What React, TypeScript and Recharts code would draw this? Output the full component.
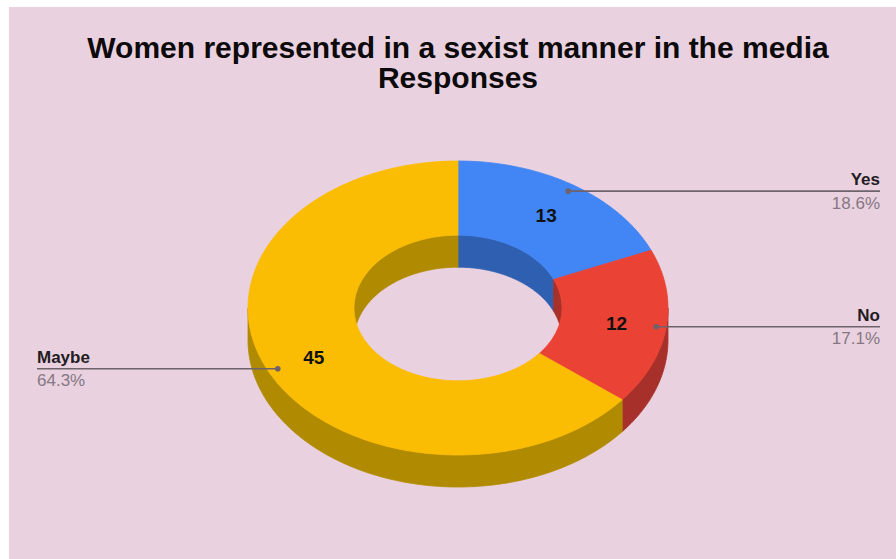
import { PieChart, Pie } from "recharts";

const categories = ["Yes", "No", "Maybe"];
const responses = [13, 12, 45];

const chartTitle = "Women represented in a sexist manner in the media";
const chartSubtitle = "Responses";

const TOP_COLORS = ["#4285f4", "#ea4335", "#fbbc04"];
const SIDE_COLORS = ["#2f5fb0", "#a8302a", "#b08a00"];

const PINK = "#e9d1df";
const FONT = '"Liberation Sans", Arial, sans-serif';
const TILT = 0.7;
const DEPTH = 32;
const RAD = Math.PI / 180;

const data = categories.map((name, i) => ({ name, value: responses[i] }));

// points along a flattened (elliptic) arc
function arc(cx: number, cy: number, r: number, a0: number, a1: number, dz = 0) {
  const n = Math.max(2, Math.ceil(Math.abs(a1 - a0)));
  const pts: string[] = [];
  for (let i = 0; i <= n; i++) {
    const a = (a0 + ((a1 - a0) * i) / n) * RAD;
    pts.push(`${(cx + r * Math.cos(a)).toFixed(2)},${(cy - TILT * r * Math.sin(a) + dz).toFixed(2)}`);
  }
  return pts;
}

function pt(cx: number, cy: number, r: number, a: number) {
  return { x: cx + r * Math.cos(a * RAD), y: cy - TILT * r * Math.sin(a * RAD) };
}

// angle ranges facing the viewer: front half for outer wall, back half for inner wall
function clip(lo: number, hi: number, back: boolean) {
  const out: [number, number][] = [];
  for (let k = -2; k <= 2; k++) {
    const a0 = back ? 360 * k : -180 + 360 * k;
    const s = Math.max(lo, a0);
    const e = Math.min(hi, a0 + 180);
    if (e > s) out.push([s, e]);
  }
  return out;
}

const renderWalls = (props: any) => {
  const { cx, cy, innerRadius, outerRadius, startAngle, endAngle, index } = props;
  const lo = Math.min(startAngle, endAngle);
  const hi = Math.max(startAngle, endAngle);
  const fill = SIDE_COLORS[index];
  const paths: string[] = [];
  clip(lo, hi, false).forEach(([s, e]) => {
    paths.push("M" + arc(cx, cy, outerRadius, s, e).concat(arc(cx, cy, outerRadius, e, s, DEPTH)).join(" L") + " Z");
  });
  clip(lo, hi, true).forEach(([s, e]) => {
    paths.push("M" + arc(cx, cy, innerRadius, s, e).concat(arc(cx, cy, innerRadius, e, s, DEPTH)).join(" L") + " Z");
  });
  return (
    <g key={`wall-${index}`}>
      {paths.map((d, i) => (
        <path key={i} d={d} fill={fill} stroke={fill} strokeWidth={0.8} strokeLinejoin="round" />
      ))}
    </g>
  );
};

const renderTop = (props: any) => {
  const { cx, cy, innerRadius, outerRadius, startAngle, endAngle, index } = props;
  const fill = TOP_COLORS[index];
  const d =
    "M" +
    arc(cx, cy, outerRadius, startAngle, endAngle).concat(arc(cx, cy, innerRadius, endAngle, startAngle)).join(" L") +
    " Z";
  return <path key={`top-${index}`} d={d} fill={fill} stroke={fill} strokeWidth={0.8} strokeLinejoin="round" />;
};

const renderCallout = (props: any) => {
  const { cx, cy, innerRadius, outerRadius, startAngle, endAngle, index, value, percent, name } = props;
  const mid = (startAngle + endAngle) / 2;
  const c = pt(cx, cy, (innerRadius + outerRadius) / 2 + 3, mid);
  const dot = pt(cx, cy, outerRadius - 10, mid);
  const right = Math.cos(mid * RAD) >= 0;
  const endX = right ? 880 : 37;
  const anchor = right ? "end" : "start";
  return (
    <g key={`callout-${index}`} fontFamily={FONT}>
      <text x={c.x} y={c.y + 7} textAnchor="middle" fontSize={19} fontWeight="bold" fill="#111">
        {value}
      </text>
      <line x1={dot.x} y1={dot.y} x2={endX} y2={dot.y} stroke="#6e626b" strokeWidth={1.6} />
      <circle cx={dot.x} cy={dot.y} r={2.8} fill="#6e626b" />
      <text x={endX} y={dot.y - 6} textAnchor={anchor} fontSize={17} fontWeight="bold" fill="#231c22">
        {name}
      </text>
      <text x={endX} y={dot.y + 17.5} textAnchor={anchor} fontSize={17} fill="#867883">
        {(percent * 100).toFixed(1)}%
      </text>
    </g>
  );
};

export default function App() {
  const pieProps = {
    data,
    dataKey: "value",
    nameKey: "name",
    cx: 458,
    cy: 308,
    innerRadius: 104,
    outerRadius: 210,
    startAngle: 90,
    endAngle: -270,
    fill: "none",
    stroke: "none",
    labelLine: false,
    isAnimationActive: false,
  };

  return (
    <div style={{ position: "absolute", left: 0, top: 0, width: 896, height: 559, overflow: "hidden" }}>
      <div style={{ position: "absolute", left: 9, top: 7, right: 0, bottom: 0, background: PINK }} />
      <div
        style={{
          position: "absolute",
          left: 8,
          top: 32.5,
          width: 900,
          textAlign: "center",
          fontFamily: FONT,
          fontWeight: "bold",
          fontSize: 30,
          lineHeight: "30px",
          color: "#0d0a0c",
        }}
      >
        <div>{chartTitle}</div>
        <div>{chartSubtitle}</div>
      </div>
      <div style={{ position: "absolute", left: 0, top: 0 }}>
        <PieChart width={896} height={559} margin={{ top: 0, right: 0, bottom: 0, left: 0 }}>
          <Pie {...pieProps} label={renderWalls} />
          <Pie {...pieProps} label={renderTop} />
          <Pie {...pieProps} label={renderCallout} />
        </PieChart>
      </div>
    </div>
  );
}
